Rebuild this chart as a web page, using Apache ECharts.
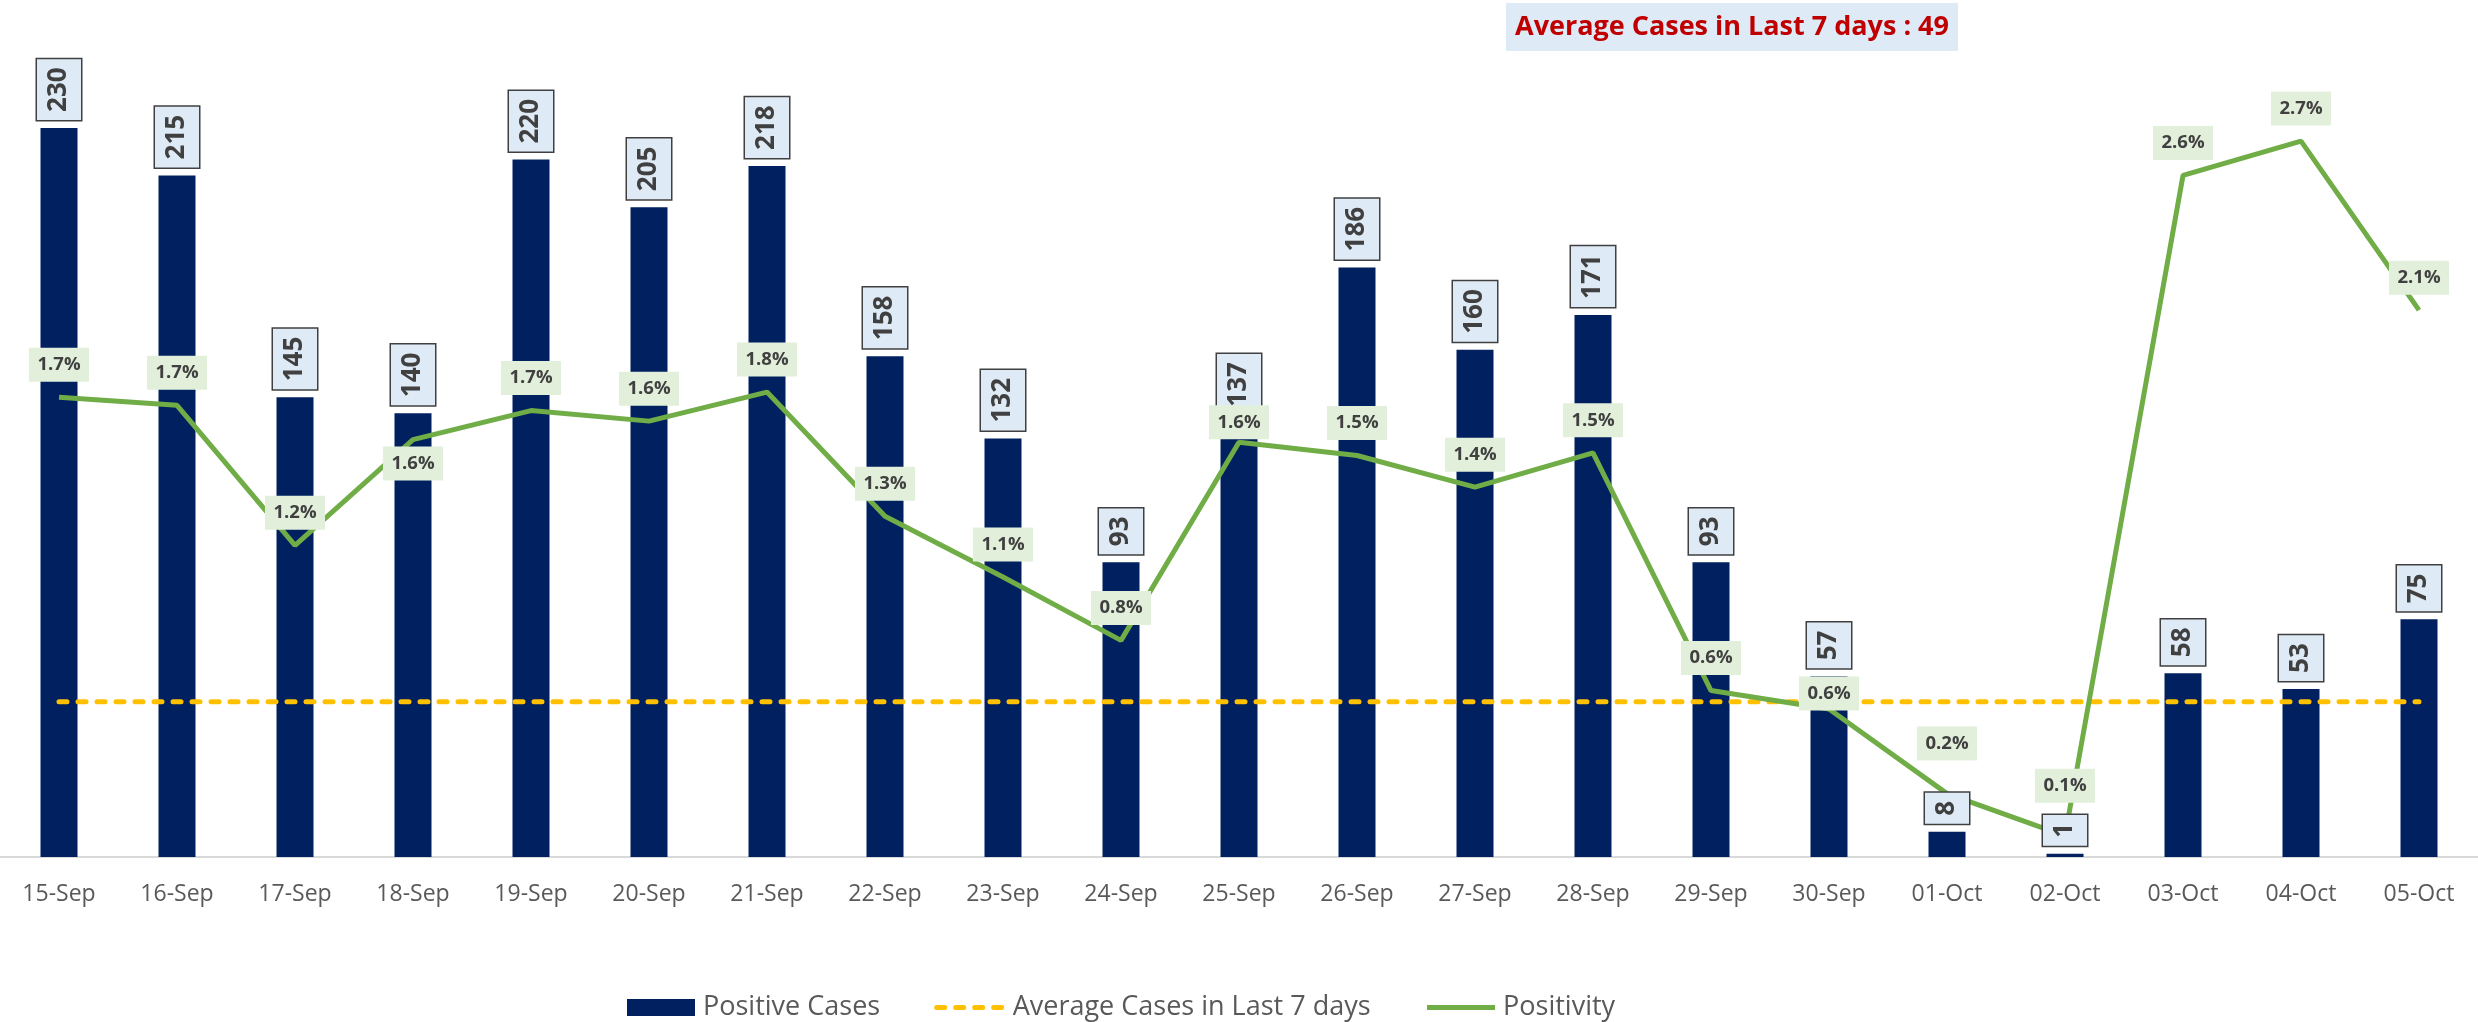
<!DOCTYPE html>
<html><head><meta charset="utf-8">
<script src="https://cdn.jsdelivr.net/npm/echarts@6/dist/echarts.min.js"></script>
<style>html,body{margin:0;padding:0;background:#fff}#c{width:2478px;height:1022px}</style>
</head><body><div id="c"></div>
<script>
const categories = ['15-Sep','16-Sep','17-Sep','18-Sep','19-Sep','20-Sep','21-Sep','22-Sep','23-Sep','24-Sep','25-Sep','26-Sep','27-Sep','28-Sep','29-Sep','30-Sep','01-Oct','02-Oct','03-Oct','04-Oct','05-Oct'];
const positiveCases = [230,215,145,140,220,205,218,158,132,93,137,186,160,171,93,57,8,1,58,53,75];
const avgLast7 = 49;
const positivity = [1.74,1.71,1.18,1.58,1.69,1.65,1.76,1.29,1.06,0.82,1.57,1.52,1.40,1.53,0.63,0.56,0.24,0.08,2.58,2.71,2.07];
const seriesNames = ['Positive Cases','Average Cases in Last 7 days','Positivity'];
const titleText = 'Average Cases in Last 7 days : ' + avgLast7;

// label placement tweaks (style only)
const labelTweaks = {
  '18-Sep': {position:'bottom', distance:6.5},
  '25-Sep': {distance:2.5},
  '30-Sep': {distance:-2},
  '01-Oct': {distance:32.5},
  '02-Oct': {distance:32.5}
};

const FONT = 'Open Sans';
const noSymbol = {color:'rgba(0,0,0,0)', borderColor:'rgba(0,0,0,0)', borderWidth:0};
const chart = echarts.init(document.getElementById('c'));
chart.setOption({
  animation:false,
  title:{
    text:titleText, left:1506, top:3, padding:[9,9],
    backgroundColor:'#deebf7',
    textStyle:{fontFamily:FONT, fontSize:27, fontWeight:'bold', color:'#c00000', lineHeight:30}
  },
  legend:{
    data:[
      {name:seriesNames[0], icon:'rect'},
      {name:seriesNames[1], itemStyle:noSymbol, lineStyle:{width:5, type:[8,11], cap:'round', color:'#ffc000'}},
      {name:seriesNames[2], itemStyle:noSymbol, lineStyle:{width:5, color:'#70ad47'}}
    ],
    left:622, top:989,
    itemWidth:68, itemHeight:17, itemGap:54,
    textStyle:{fontFamily:FONT, fontSize:27, color:'#595959', padding:[0,0,0,3]}
  },
  grid:{left:0, right:0, top:64.5, bottom:165, containLabel:false},
  xAxis:{
    type:'category', data:categories,
    axisTick:{show:false},
    axisLine:{lineStyle:{color:'#d9d9d9', width:2}},
    axisLabel:{fontFamily:FONT, fontSize:23, color:'#595959', margin:26}
  },
  yAxis:[
    {type:'value', min:0, max:250, show:false, splitLine:{show:false}},
    {type:'value', min:0, max:3, show:false, splitLine:{show:false}}
  ],
  series:[
    {
      name:seriesNames[0], type:'bar', data:positiveCases, barWidth:37, z:2,
      itemStyle:{color:'#002060'}
    },
    {
      name:seriesNames[1], type:'line', data:categories.map(()=>avgLast7), symbol:'none', z:3,
      lineStyle:{color:'#ffc000', width:5, type:[8,11], cap:'round'}, itemStyle:{color:'#ffc000'}
    },
    {
      name:seriesNames[2], type:'line', yAxisIndex:1, data:positivity, symbol:'none', z:4,
      lineStyle:{color:'#70ad47', width:5}, itemStyle:{color:'#70ad47'}
    },
    {
      name:'caseLabels', type:'bar', data:positiveCases, barWidth:37, barGap:'-100%', z:5,
      itemStyle:{color:'rgba(0,0,0,0)'},
      label:{
        show:true, position:'top', distance:8, rotate:90, align:'left', verticalAlign:'middle',
        fontFamily:FONT, fontSize:26, fontWeight:'bold', color:'#404040', lineHeight:26,
        padding:[9,8], backgroundColor:'#deeaf6', borderColor:'#404040', borderWidth:1.5
      }
    },
    {
      name:'positivityLabels', type:'line', yAxisIndex:1, z:6,
      data:positivity.map((v,i)=>({value:v, label:labelTweaks[categories[i]] || {}})),
      symbol:'circle', symbolSize:1, showSymbol:true,
      lineStyle:{width:0, opacity:0}, itemStyle:{color:'rgba(0,0,0,0)'},
      label:{
        show:true, position:'top', distance:15,
        formatter:p=>p.value.toFixed(1)+'%',
        fontFamily:FONT, fontSize:18.5, fontWeight:'bold', color:'#404040', lineHeight:20,
        padding:[7,8.5], backgroundColor:'#e2efda'
      }
    }
  ]
});
</script></body></html>
